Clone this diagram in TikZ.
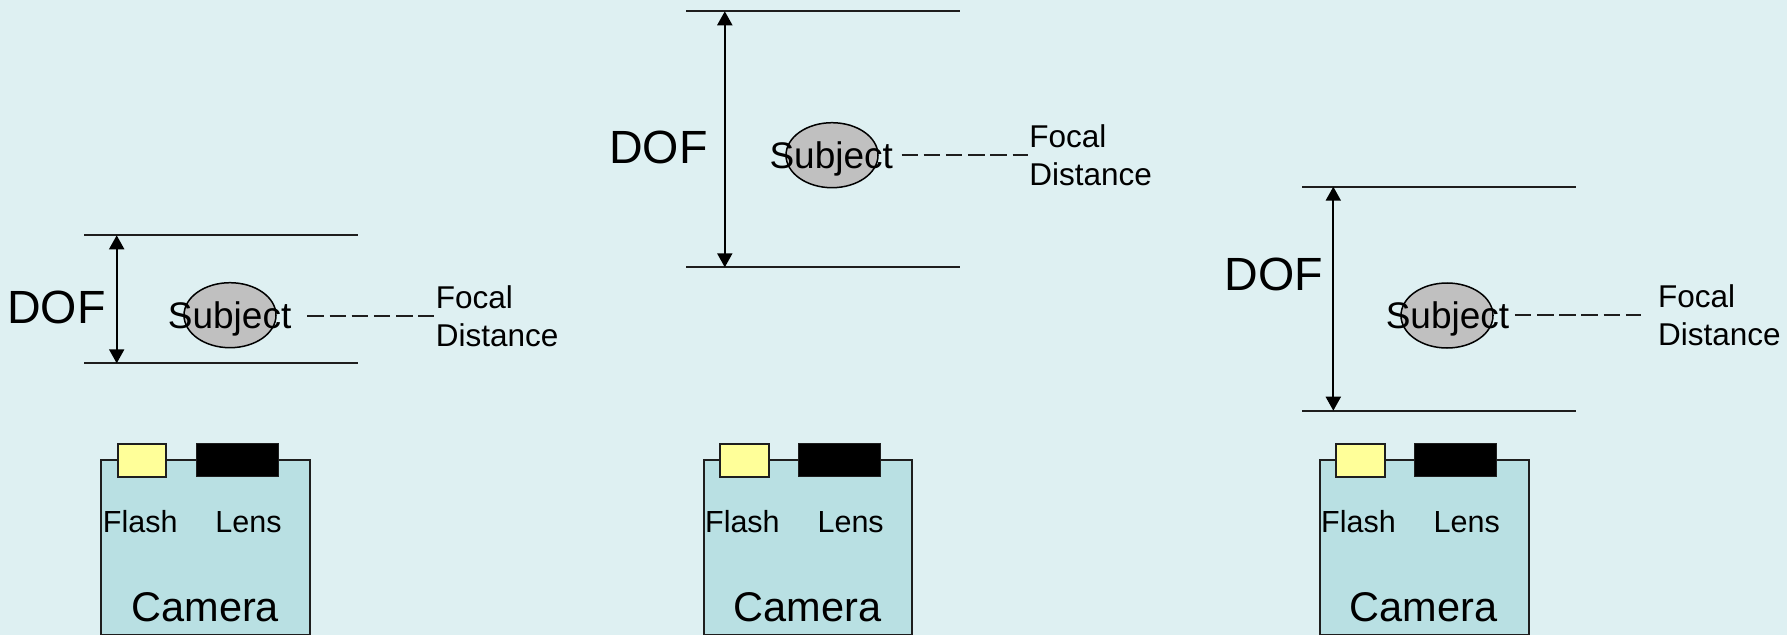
\documentclass[tikz,border=0pt]{standalone}
\usepackage{fontspec}
\setmainfont{Liberation Sans}
\usetikzlibrary{arrows.meta,shapes.geometric}
\definecolor{bg}{RGB}{222,240,242}
\definecolor{cam}{RGB}{185,224,227}
\definecolor{flashc}{RGB}{255,255,153}
\definecolor{subj}{RGB}{192,192,192}
\definecolor{edge}{RGB}{30,30,30}
\tikzset{
  limline/.style={line width=2bp, draw=edge},
  dofarrow/.style={line width=2bp, draw=black, {Triangle[length=14bp,width=15bp]}-{Triangle[length=14bp,width=15bp]}},
  focline/.style={line width=2bp, draw=edge, dash pattern=on 16.5bp off 5.7bp},
  subjshape/.style={ellipse, draw=black, line width=1.5bp, fill=subj, minimum width=92bp, minimum height=65bp, inner sep=0pt},
  doftext/.style={inner sep=0pt, font=\fontsize{46.6bp}{56bp}\selectfont},
  subjtext/.style={inner sep=0pt, anchor=base, font=\fontsize{37bp}{44bp}\selectfont},
  foctext/.style={inner sep=0pt, anchor=base west, font=\fontsize{31.5bp}{38bp}\selectfont},
  smalltext/.style={inner sep=0pt, anchor=base west, font=\fontsize{30.5bp}{36bp}\selectfont},
  camtext/.style={inner sep=0pt, anchor=base west, font=\fontsize{41.5bp}{50bp}\selectfont},
  cambody/.style={draw=edge, line width=2bp, fill=cam, anchor=north west, minimum width=208.9bp, minimum height=175bp, inner sep=0pt},
  flashbox/.style={draw=edge, line width=2bp, fill=flashc, anchor=north west, minimum width=48.6bp, minimum height=32.4bp, inner sep=0pt},
  lensbox/.style={draw=edge, line width=1bp, fill=black, anchor=north west, minimum width=82bp, minimum height=33bp, inner sep=0pt}
}
\newcommand\camerabox[2]{%
  \begin{scope}[xshift=#2bp]
    \node[cambody] (body#1) at (100.3,459) {};
    \node[flashbox] (flash#1) at (116.7,443.3) {};
    \node[lensbox] (lens#1) at (195.9,442.7) {};
    \node[smalltext] (flashlbl#1) at (102.7,532.3) {Flash};
    \node[smalltext] (lenslbl#1) at (215.2,532.3) {Lens};
    \node[camtext] (camlbl#1) at (131.2,621.7) {Camera};
  \end{scope}}
\begin{document}
\begin{tikzpicture}[x=1bp,y=-1bp]
\fill[bg] (0,0) rectangle (1787,635);
\useasboundingbox (0,0) rectangle (1787,635);

% ---------- Panel 1 ----------
\coordinate (top1w) at (84.2,235.3);  \coordinate (top1e) at (357.8,235.3);
\coordinate (bot1w) at (84.2,363.3);  \coordinate (bot1e) at (357.8,363.3);
\draw[limline] (top1w) -- (top1e);
\draw[limline] (bot1w) -- (bot1e);
\coordinate (arr1t) at (116.7,235.3); \coordinate (arr1b) at (116.7,363.3);
\draw[dofarrow] (arr1t) -- (arr1b);
\node[doftext, anchor=base west] (dof1) at (7,323.3) {DOF};
\node[subjshape] (ell1) at (230,315.2) {};
\node[subjtext] (subj1) at (229.6,328.3) {Subject};
\coordinate (dash1a) at (307.3,315.7); \coordinate (dash1b) at (434.3,315.7);
\draw[focline] (dash1a) -- (dash1b);
\node[foctext] (focal1) at (435.7,308.3) {Focal};
\node[foctext] (dist1) at (435.7,346.7) {Distance};

% ---------- Panel 2 ----------
\coordinate (top2w) at (686.1,11.3);  \coordinate (top2e) at (959.7,11.3);
\coordinate (bot2w) at (686.1,267.3); \coordinate (bot2e) at (959.7,267.3);
\draw[limline] (top2w) -- (top2e);
\draw[limline] (bot2w) -- (bot2e);
\coordinate (arr2t) at (724.8,11.3); \coordinate (arr2b) at (724.8,267.3);
\draw[dofarrow] (arr2t) -- (arr2b);
\node[doftext, anchor=base west] (dof2) at (608.9,164) {DOF};
\node[subjshape] (ell2) at (832,155.2) {};
\node[subjtext] (subj2) at (831.2,168.3) {Subject};
\coordinate (dash2a) at (901.5,155); \coordinate (dash2b) at (1027.5,155);
\draw[focline] (dash2a) -- (dash2b);
\node[foctext] (focal2) at (1029.2,147.7) {Focal};
\node[foctext] (dist2) at (1029.2,186) {Distance};

% ---------- Panel 3 ----------
\coordinate (top3w) at (1302.2,186.7); \coordinate (top3e) at (1575.5,186.7);
\coordinate (bot3w) at (1302.2,410.7); \coordinate (bot3e) at (1575.5,410.7);
\draw[limline] (top3w) -- (top3e);
\draw[limline] (bot3w) -- (bot3e);
\coordinate (arr3t) at (1333.3,186.7); \coordinate (arr3b) at (1333.3,410.7);
\draw[dofarrow] (arr3t) -- (arr3b);
\node[doftext, anchor=base west] (dof3) at (1224.3,290.7) {DOF};
\node[subjshape] (ell3) at (1447,315.5) {};
\node[subjtext] (subj3) at (1447.5,328.3) {Subject};
\coordinate (dash3a) at (1514.8,315.3); \coordinate (dash3b) at (1640.8,315.3);
\draw[focline] (dash3a) -- (dash3b);
\node[foctext] (focal3) at (1658,307.3) {Focal};
\node[foctext] (dist3) at (1658,345.7) {Distance};

% ---------- Cameras ----------
\camerabox{1}{0}
\camerabox{2}{602.2}
\camerabox{3}{1218.3}
\end{tikzpicture}
\end{document}
